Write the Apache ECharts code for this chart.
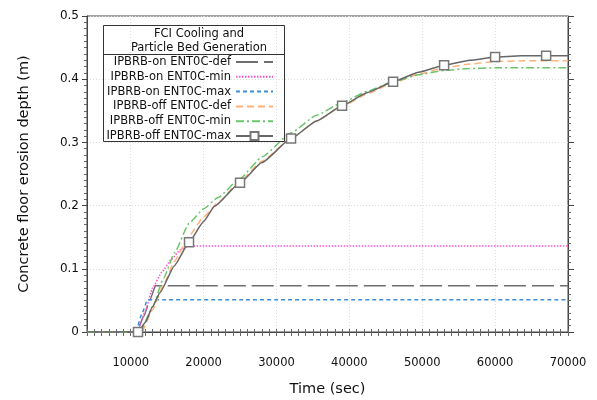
<!DOCTYPE html>
<html>
<head>
<meta charset="utf-8">
<script src="https://cdn.jsdelivr.net/npm/echarts@6/dist/echarts.min.js"></script>
<style>
  html, body { margin: 0; padding: 0; background: #fff; }
  #chart { width: 597px; height: 400px; }
</style>
</head>
<body>
<div id="chart"></div>
<script>
// series names (legend order)
const seriesNames = [
  'IPBRB-on ENT0C-def',
  'IPBRB-on ENT0C-min',
  'IPBRB-on ENT0C-max',
  'IPBRB-off ENT0C-def',
  'IPBRB-off ENT0C-min',
  'IPBRB-off ENT0C-max'
];

// x tick labels
const timeLabels = [10000, 20000, 30000, 40000, 50000, 60000, 70000];

// time (sec) / depth (m)
const onDefTime = [4000, 10800, 11800, 12600, 13400, 70000];
const onDefDepth = [0, 0, 0.025, 0.05, 0.073, 0.073];

const onMinTime = [4000, 10900, 12000, 13000, 14300, 15500, 16800, 18000, 70000];
const onMinDepth = [0, 0, 0.033, 0.07, 0.095, 0.114, 0.13, 0.136, 0.136];

const onMaxTime = [4000, 10700, 11500, 12300, 70000];
const onMaxDepth = [0, 0, 0.028, 0.051, 0.051];

const offDefTime = [4000, 11500, 13000, 14500, 16000, 18000, 20000, 22000, 25000, 28000, 32000, 35500, 39000, 42500, 46000, 49500, 53000, 56500, 60000, 64000, 70000];
const offDefDepth = [0, 0, 0.035, 0.075, 0.112, 0.152, 0.182, 0.205, 0.239, 0.27, 0.306, 0.334, 0.357, 0.377, 0.394, 0.408, 0.418, 0.424, 0.428, 0.429, 0.429];

const offMinTime = [4000, 11300, 13000, 14500, 16000, 18000, 20000, 22000, 25000, 28000, 32000, 35500, 39000, 42500, 46000, 49500, 53000, 56500, 60000, 64000, 70000];
const offMinDepth = [0, 0, 0.04, 0.085, 0.125, 0.172, 0.195, 0.213, 0.243, 0.277, 0.315, 0.343, 0.363, 0.381, 0.396, 0.407, 0.414, 0.417, 0.418, 0.418, 0.418];

const offMaxTime = [4000, 11000, 12000, 13000, 14000, 16000, 18000, 20000, 21500, 25000, 28000, 32000, 35500, 39000, 42500, 46000, 49500, 53000, 56500, 60000, 63500, 67000, 70000];
const offMaxDepth = [0, 0, 0.015, 0.04, 0.062, 0.105, 0.142, 0.175, 0.199, 0.236, 0.268, 0.306, 0.334, 0.358, 0.379, 0.396, 0.411, 0.422, 0.43, 0.435, 0.437, 0.437, 0.437];
// times that carry a square marker on the last curve
const offMaxMarkers = [11000, 18000, 25000, 32000, 39000, 46000, 53000, 60000, 67000];

const FONT = 'DejaVu Sans';

function pairs(t, d) {
  return t.map((x, i) => [x, d[i]]);
}
function markedPairs(t, d, marks) {
  return t.map((x, i) => {
    if (marks.indexOf(x) >= 0) return { value: [x, d[i]] };
    return { value: [x, d[i]], symbol: 'none' };
  });
}

const chart = echarts.init(document.getElementById('chart'));

function lineSeries(name, data, color, type, width) {
  return {
    name: name,
    type: 'line',
    data: data,
    showSymbol: false,
    symbol: 'none',
    smooth: 0.15,
    smoothMonotone: 'x',
    lineStyle: { color: color, width: width, type: type },
    itemStyle: { color: color }
  };
}

const axisLineStyle = { color: '#444', width: 1 };

// split line every 10000 when ticks are every 1000 starting at 4000
const xGridColors = [];
for (let i = 0; i < 10; i++) xGridColors.push(i === 6 ? '#dcdcdc' : 'rgba(0,0,0,0)');

// legend items: hide the dot on the plain lines
const legendData = seriesNames.map((n, i) =>
  i < 5 ? { name: n, itemStyle: { opacity: 0 } } : { name: n });

const option = {
  animation: false,
  textStyle: { fontFamily: FONT },
  grid: { left: 87, right: 29, top: 16, bottom: 68, show: true, borderColor: '#444', borderWidth: 1,
    outerBoundsMode: 'none', containLabel: false },
  title: {
    text: 'FCI Cooling and\nParticle Bed Generation',
    left: 194,
    top: 22,
    textAlign: 'center',
    textStyle: { fontFamily: FONT, fontSize: 11.5, fontWeight: 'normal', color: '#111', lineHeight: 14 }
  },
  graphic: [
    { type: 'rect', shape: { x: 103.5, y: 25.5, width: 181, height: 116 },
      style: { fill: 'none', stroke: '#333', lineWidth: 1 }, z: 10 },
    { type: 'line', shape: { x1: 103.5, y1: 54.5, x2: 284.5, y2: 54.5 },
      style: { stroke: '#333', lineWidth: 1 }, z: 10 }
  ],
  legend: {
    orient: 'vertical',
    left: 106,
    top: 55,
    padding: 0,
    align: 'right',
    itemWidth: 37,
    itemHeight: 10,
    itemGap: 0.8,
    textStyle: { fontFamily: FONT, fontSize: 11.5, color: '#111', width: 125, lineHeight: 14, align: 'right' },
    data: legendData
  },
  xAxis: [{
    type: 'value',
    min: 4000,
    max: 70000,
    interval: 1000,
    name: 'Time (sec)',
    nameLocation: 'middle',
    nameGap: 50,
    nameTextStyle: { fontFamily: FONT, fontSize: 14.5, color: '#111' },
    axisLine: { lineStyle: axisLineStyle },
    axisTick: { length: 4, lineStyle: { color: '#666' } },
    axisLabel: { margin: 25, fontSize: 11.5, color: '#111', fontFamily: FONT,
      customValues: timeLabels, formatter: v => String(v) },
    splitLine: { show: true, showMinLine: true, showMaxLine: true,
      lineStyle: { color: xGridColors, type: [1, 2] } }
  }, {
    type: 'value',
    position: 'top',
    min: 4000,
    max: 70000,
    interval: 1000,
    axisLine: { lineStyle: axisLineStyle },
    axisTick: { length: 3, lineStyle: { color: '#666' } },
    axisLabel: { show: false },
    splitLine: { show: false }
  }],
  yAxis: [{
    type: 'value',
    min: 0,
    max: 0.5,
    interval: 0.1,
    name: 'Concrete floor erosion depth (m)',
    nameLocation: 'middle',
    nameGap: 55,
    nameTextStyle: { fontFamily: FONT, fontSize: 14.5, color: '#111' },
    axisLine: { show: true, lineStyle: axisLineStyle },
    axisTick: { show: true, length: 5, lineStyle: axisLineStyle },
    minorTick: { show: true, splitNumber: 10, length: 3, lineStyle: { color: '#666' } },
    axisLabel: { margin: 8, fontSize: 12, color: '#111', fontFamily: FONT,
      formatter: v => (v === 0 ? '0' : v.toFixed(1)) },
    splitLine: { show: true, lineStyle: { color: '#dcdcdc', type: [1, 2] } }
  }, {
    type: 'value',
    position: 'right',
    min: 0,
    max: 0.5,
    interval: 0.1,
    axisLine: { show: true, lineStyle: axisLineStyle },
    axisTick: { show: true, length: 6, lineStyle: axisLineStyle },
    minorTick: { show: true, splitNumber: 10, length: 3, lineStyle: { color: '#666' } },
    axisLabel: { show: false },
    splitLine: { show: false }
  }],
  series: [
    lineSeries(seriesNames[0], pairs(onDefTime, onDefDepth), '#6e6e6e', [22, 6], 1.5),
    lineSeries(seriesNames[1], pairs(onMinTime, onMinDepth), '#ff55cc', [1.5, 1.5], 1.5),
    lineSeries(seriesNames[2], pairs(onMaxTime, onMaxDepth), '#3d8fd6', [4, 3], 1.5),
    lineSeries(seriesNames[3], pairs(offDefTime, offDefDepth), '#ffb27a', [7, 4], 1.5),
    lineSeries(seriesNames[4], pairs(offMinTime, offMinDepth), '#6cc46c', [8, 3, 2, 3], 1.5),
    {
      name: seriesNames[5],
      type: 'line',
      data: markedPairs(offMaxTime, offMaxDepth, offMaxMarkers),
      symbol: 'rect',
      symbolSize: 9,
      showSymbol: true,
      smooth: 0.15,
      smoothMonotone: 'x',
      z: 3,
      lineStyle: { color: '#666', width: 1.5, type: 'solid' },
      itemStyle: { color: '#fff', borderColor: '#777', borderWidth: 1.5 }
    }
  ]
};

chart.setOption(option);
</script>
</body>
</html>
